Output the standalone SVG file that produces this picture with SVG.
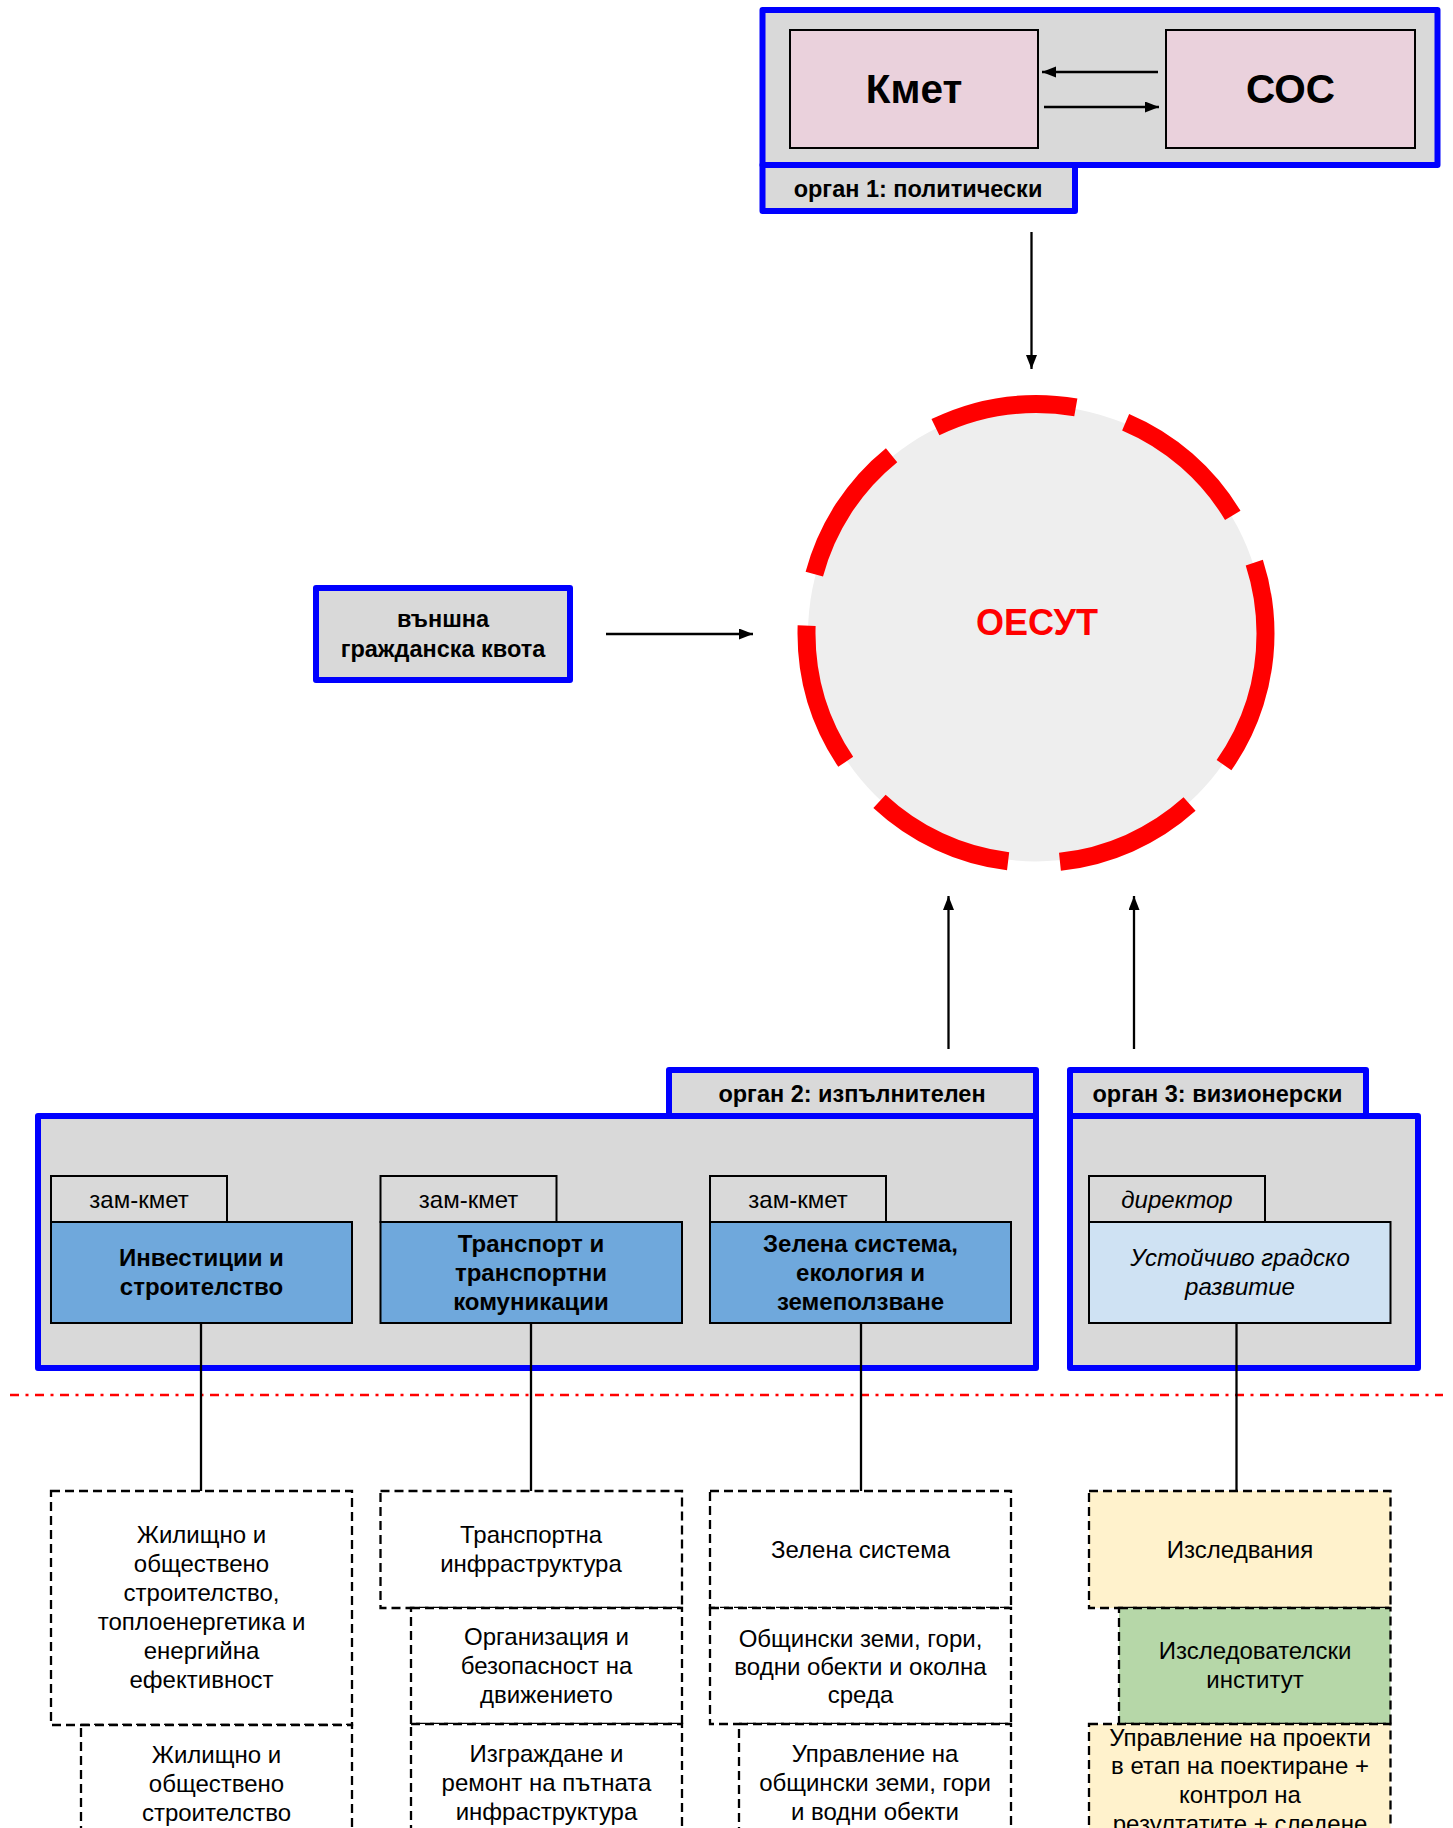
<svg xmlns="http://www.w3.org/2000/svg" width="1453" height="1828" viewBox="0 0 1453 1828">
<defs>
<marker id="ah" markerUnits="userSpaceOnUse" markerWidth="15" markerHeight="12" refX="14" refY="5.5" orient="auto">
<path d="M0,0 L14,5.5 L0,11 z" fill="#000"/>
</marker>
<style>
text{font-family:"Liberation Sans",Arial,sans-serif;text-anchor:middle;fill:#000}
.organ{fill:#d9d9d9;stroke:#0000ff;stroke-width:6;stroke-linejoin:round}
.title{font-size:23.5px;font-weight:bold}
.tab{fill:#d9d9d9;stroke:#000;stroke-width:2}
.dept{fill:#6fa8dc;stroke:#000;stroke-width:2}
.dir{fill:#cfe2f3;stroke:#000;stroke-width:2}
.tabt{font-size:24px}
.deptt{font-size:24px;font-weight:bold}
.it{font-style:italic}
.sub{fill:#fff;stroke:#000;stroke-width:2.3;stroke-dasharray:9 5}
.subt{font-size:24px}
.conn{stroke:#000;stroke-width:2.3;fill:none}
.arr{stroke:#000;stroke-width:2.3;fill:none;marker-end:url(#ah)}
</style>
</defs>

<g id="organ1">
<rect class="organ" x="762.5" y="10" width="675" height="155"/>
<rect class="organ" x="762.5" y="165" width="312.5" height="46"/>
<text class="title" x="918" y="197">орган 1: политически</text>
</g>
<g id="kmet">
<rect x="790" y="30" width="248" height="118" fill="#ead1dc" stroke="#000" stroke-width="2"/>
<text x="914" y="103" font-size="40.5" font-weight="bold">Кмет</text>
</g>
<g id="sos">
<rect x="1166" y="30" width="249" height="118" fill="#ead1dc" stroke="#000" stroke-width="2"/>
<text x="1290.5" y="103" font-size="40.5" font-weight="bold">СОС</text>
</g>

<g id="oesut">
<circle cx="1036" cy="633.5" r="228" fill="#eeeeee"/>
<circle cx="1036" cy="633.5" r="229.5" fill="none" stroke="#ff0000" stroke-width="18" pathLength="360" stroke-dasharray="36 13" stroke-dashoffset="1"/>
<text x="1037" y="635" font-size="36" font-weight="bold" style="fill:#ff0000">ОЕСУТ</text>
</g>

<g id="kvota">
<rect class="organ" x="316" y="588" width="254" height="92"/>
<text class="title" x="443" y="627">външна</text>
<text class="title" x="443" y="657">гражданска квота</text>
</g>

<g id="organ2">
<rect class="organ" x="38" y="1116" width="998" height="252"/>
<rect class="organ" x="669" y="1070" width="367" height="46"/>
<text class="title" x="852" y="1102">орган 2: изпълнителен</text>
</g>
<g id="organ3">
<rect class="organ" x="1070" y="1116" width="348" height="252"/>
<rect class="organ" x="1070" y="1070" width="296" height="46"/>
<text class="title" x="1217.5" y="1102">орган 3: визионерски</text>
</g>

<g id="dept1">
<rect class="tab" x="51" y="1176" width="176" height="46"/>
<text class="tabt" x="139" y="1208">зам-кмет</text>
<rect class="dept" x="51" y="1222" width="301" height="101"/>
<text class="deptt" x="201.5" y="1265.5">Инвестиции и</text>
<text class="deptt" x="201.5" y="1294.5">строителство</text>
</g>
<g id="dept2">
<rect class="tab" x="380.5" y="1176" width="176" height="46"/>
<text class="tabt" x="468.5" y="1208">зам-кмет</text>
<rect class="dept" x="380.5" y="1222" width="301.5" height="101"/>
<text class="deptt" x="531" y="1251.5">Транспорт и</text>
<text class="deptt" x="531" y="1280.5">транспортни</text>
<text class="deptt" x="531" y="1309.5">комуникации</text>
</g>
<g id="dept3">
<rect class="tab" x="710" y="1176" width="176" height="46"/>
<text class="tabt" x="798" y="1208">зам-кмет</text>
<rect class="dept" x="710" y="1222" width="301" height="101"/>
<text class="deptt" x="860.5" y="1251.5">Зелена система,</text>
<text class="deptt" x="860.5" y="1280.5">екология и</text>
<text class="deptt" x="860.5" y="1309.5">земеползване</text>
</g>
<g id="dept4">
<rect class="tab" x="1089" y="1176" width="176" height="46"/>
<text class="tabt it" x="1177" y="1208">директор</text>
<rect class="dir" x="1089" y="1222" width="301.5" height="101"/>
<text class="subt it" x="1240" y="1265.5">Устойчиво градско</text>
<text class="subt it" x="1240" y="1294.5">развитие</text>
</g>

<line id="divider" x1="10" y1="1395" x2="1443" y2="1395" stroke="#ff0000" stroke-width="2.5" stroke-dasharray="9 6.5 3 6.5"/>

<g id="subA1">
<rect class="sub" x="51" y="1491" width="301" height="234"/>
<text class="subt" x="201.5" y="1543">Жилищно и</text>
<text class="subt" x="201.5" y="1572">обществено</text>
<text class="subt" x="201.5" y="1601">строителство,</text>
<text class="subt" x="201.5" y="1630">топлоенергетика и</text>
<text class="subt" x="201.5" y="1659">енергийна</text>
<text class="subt" x="201.5" y="1688">ефективност</text>
</g>
<g id="subA2">
<rect class="sub" x="81" y="1725" width="271" height="120"/>
<text class="subt" x="216.5" y="1763">Жилищно и</text>
<text class="subt" x="216.5" y="1792">обществено</text>
<text class="subt" x="216.5" y="1821">строителство</text>
</g>
<g id="subB1">
<rect class="sub" x="380.5" y="1491" width="301.5" height="117"/>
<text class="subt" x="531" y="1543">Транспортна</text>
<text class="subt" x="531" y="1572">инфраструктура</text>
</g>
<g id="subB2">
<rect class="sub" x="411" y="1608" width="271" height="116"/>
<text class="subt" x="546.5" y="1645">Организация и</text>
<text class="subt" x="546.5" y="1674">безопасност на</text>
<text class="subt" x="546.5" y="1703">движението</text>
</g>
<g id="subB3">
<rect class="sub" x="411" y="1724" width="271" height="120"/>
<text class="subt" x="546.5" y="1762">Изграждане и</text>
<text class="subt" x="546.5" y="1791">ремонт на пътната</text>
<text class="subt" x="546.5" y="1820">инфраструктура</text>
</g>
<g id="subC1">
<rect class="sub" x="710" y="1491" width="301" height="117"/>
<text class="subt" x="860.5" y="1558">Зелена система</text>
</g>
<g id="subC2">
<rect class="sub" x="710" y="1608" width="301" height="116"/>
<text class="subt" x="860.5" y="1647">Общински земи, гори,</text>
<text class="subt" x="860.5" y="1675">водни обекти и околна</text>
<text class="subt" x="860.5" y="1703">среда</text>
</g>
<g id="subC3">
<rect class="sub" x="739" y="1724" width="272" height="120"/>
<text class="subt" x="875" y="1762">Управление на</text>
<text class="subt" x="875" y="1791">общински земи, гори</text>
<text class="subt" x="875" y="1820">и водни обекти</text>
</g>
<g id="subD1">
<rect class="sub" x="1089" y="1491" width="301.5" height="117" style="fill:#fff2cc"/>
<text class="subt" x="1240" y="1558">Изследвания</text>
</g>
<g id="subD2">
<rect class="sub" x="1119" y="1608" width="271.5" height="116" style="fill:#b6d7a8"/>
<text class="subt" x="1255" y="1659">Изследователски</text>
<text class="subt" x="1255" y="1688">институт</text>
</g>
<g id="subD3">
<rect class="sub" x="1089" y="1724" width="301.5" height="120" style="fill:#fff2cc"/>
<text class="subt" x="1240" y="1746">Управление на проекти</text>
<text class="subt" x="1240" y="1774">в етап на поектиране +</text>
<text class="subt" x="1240" y="1803">контрол на</text>
<text class="subt" x="1240" y="1832">резултатите + следене</text>
</g>

<g id="connectors">
<line class="arr" x1="1158" y1="72" x2="1042" y2="72"/>
<line class="arr" x1="1044" y1="107" x2="1159" y2="107"/>
<line class="arr" x1="1031.5" y1="232" x2="1031.5" y2="369"/>
<line class="arr" x1="606" y1="634" x2="753" y2="634"/>
<line class="arr" x1="948.5" y1="1049" x2="948.5" y2="896"/>
<line class="arr" x1="1134" y1="1049" x2="1134" y2="896"/>
<line class="conn" x1="201" y1="1323" x2="201" y2="1491"/>
<line class="conn" x1="531" y1="1323" x2="531" y2="1491"/>
<line class="conn" x1="861" y1="1323" x2="861" y2="1491"/>
<line class="conn" x1="1236.5" y1="1323" x2="1236.5" y2="1491"/>
</g>
</svg>
